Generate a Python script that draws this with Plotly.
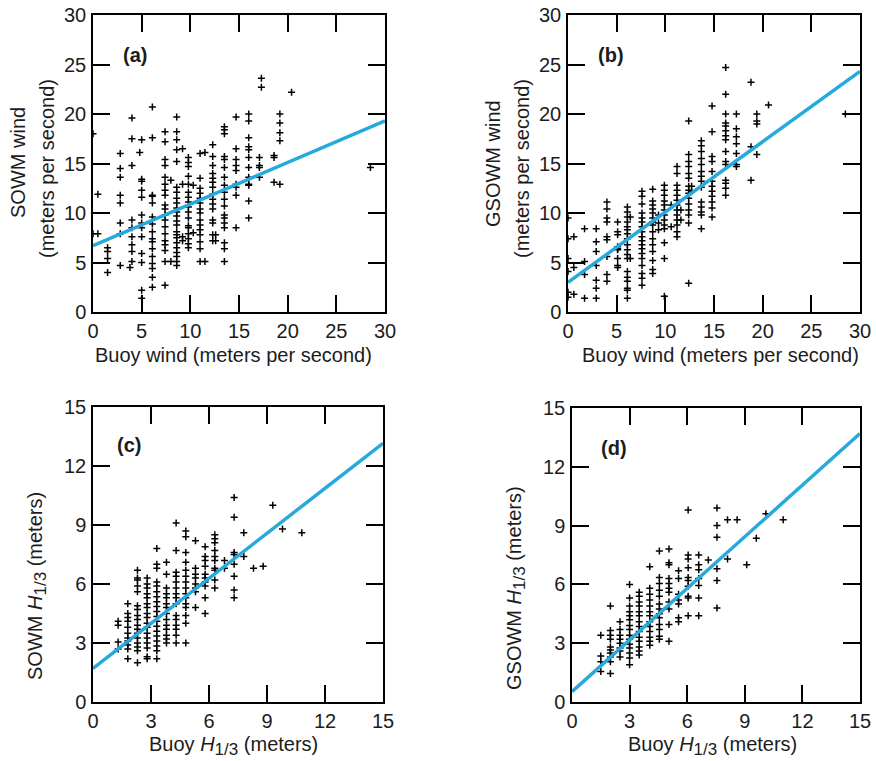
import plotly.graph_objects as go

W, H = 876, 761

# ---------------- data ----------------
# Panel (a): buoy wind vs SOWM wind  (column x, list of y values)
a_col_x = [0.0, 0.5, 1.5, 2.8, 4.0, 3.8, 5.0, 4.8, 6.1, 7.4, 8.0, 8.6, 9.2, 9.8, 10.3,
           11.0, 11.5, 12.3, 12.6, 13.5, 14.7, 16.0, 17.1, 17.3, 18.6, 19.2, 20.4, 28.5]
a_col_y = [
    [18.0, 7.9], [11.9, 7.9], [6.5, 6.1, 5.4, 4.0],
    [16.0, 14.5, 13.6, 11.8, 11.0, 9.0, 7.9, 4.7],
    [19.6, 17.5, 14.8, 9.3, 8.5, 7.6, 6.8, 6.1, 5.1], [4.5],
    [17.4, 13.4, 13.2, 12.3, 11.6, 9.8, 9.0, 8.5, 7.6, 5.9, 5.0, 2.2, 1.4], [16.1],
    [20.7, 17.6, 11.8, 11.7, 11.0, 9.6, 8.9, 8.1, 7.4, 7.1, 6.4, 5.6, 4.9, 4.4, 3.5, 2.5],
    [18.2, 17.2, 15.4, 14.8, 13.6, 12.9, 12.3, 11.8, 10.8, 10.4, 9.8, 9.3, 8.6, 7.9, 7.2, 6.8, 6.2, 5.1, 2.7],
    [13.3, 5.1],
    [19.7, 18.2, 17.4, 16.4, 15.2, 12.6, 12.1, 11.5, 11.0, 10.5, 10.1, 9.7, 9.2, 8.8, 8.1, 7.8, 7.5, 7.0, 6.5, 6.0, 5.6, 5.1, 4.7],
    [16.5, 12.9, 7.6, 7.2],
    [15.6, 15.1, 14.7, 13.7, 12.9, 12.1, 11.6, 11.1, 10.6, 10.1, 9.5, 8.7, 8.5, 7.9, 7.4, 6.9, 6.5],
    [12.8, 8.0],
    [16.0, 13.5, 12.5, 12.0, 11.5, 11.0, 10.4, 10.0, 9.3, 8.8, 8.3, 7.8, 7.1, 6.4, 5.1],
    [16.1, 5.1],
    [16.9, 15.7, 14.8, 14.0, 13.5, 13.1, 12.6, 11.9, 11.4, 10.9, 10.4, 9.3, 9.0, 7.8, 7.2],
    [7.8, 7.2],
    [18.7, 18.4, 18.0, 15.7, 15.4, 14.6, 13.6, 12.8, 12.1, 11.4, 10.7, 9.8, 9.5, 9.0, 8.5, 7.0, 6.4, 5.1],
    [19.7, 16.5, 15.4, 14.8, 14.3, 12.9, 12.6, 11.8, 8.5],
    [20.0, 19.3, 17.6, 16.7, 16.4, 15.6, 14.6, 13.6, 12.9, 12.8, 11.2, 9.5],
    [15.6, 14.8, 14.6, 13.6], [23.6, 22.7], [15.8, 15.6, 13.1],
    [20.0, 19.1, 18.1, 17.3, 12.9], [22.2], [14.6],
]

# Panel (b): buoy wind vs GSOWM wind
b_col_x = [0.0, 0.6, 1.7, 2.9, 4.0, 5.1, 6.1, 6.4, 7.6, 8.7, 9.3, 9.9, 10.6, 11.2, 11.6,
           12.4, 12.7, 13.7, 14.8, 16.2, 17.3, 18.8, 19.4, 20.6, 28.5]
b_col_y = [
    [9.5, 7.4, 5.4, 4.1, 2.0, 1.5], [7.6, 4.5, 1.8], [8.4, 5.1, 3.8, 1.4],
    [8.4, 7.1, 6.1, 4.7, 3.2, 2.4, 1.4],
    [11.1, 10.4, 9.5, 9.1, 7.6, 7.3, 5.6, 3.8, 3.1],
    [9.1, 8.1, 7.8, 6.6, 6.4, 6.3, 5.4, 4.7, 4.5],
    [10.6, 10.1, 9.6, 9.1, 8.6, 8.3, 7.9, 7.4, 6.8, 6.3, 5.8, 5.4, 4.1, 3.5, 3.1, 2.4, 2.2, 1.4],
    [9.6, 5.4],
    [12.2, 11.7, 10.9, 10.0, 9.5, 9.1, 8.6, 8.1, 7.6, 7.2, 6.8, 6.4, 5.9, 5.4, 4.7, 3.9, 3.4, 2.7],
    [12.4, 11.2, 10.8, 10.4, 10.0, 9.5, 9.1, 8.8, 8.1, 7.4, 6.8, 6.1, 5.2, 4.3, 3.9],
    [9.8, 9.0, 8.3],
    [12.8, 12.3, 11.8, 11.2, 10.8, 10.3, 9.8, 9.3, 8.8, 8.4, 7.0, 5.4, 1.6],
    [10.8, 8.6],
    [14.7, 14.0, 12.8, 12.3, 11.8, 11.3, 10.8, 10.3, 9.8, 9.3, 8.8, 8.1, 7.6],
    [10.3, 9.3],
    [19.3, 15.9, 15.2, 14.7, 14.0, 13.5, 12.7, 12.3, 12.0, 11.5, 10.9, 10.3, 9.8, 9.0, 2.9],
    [12.7, 12.2],
    [17.3, 16.8, 16.2, 15.5, 14.9, 14.2, 13.7, 13.2, 12.6, 11.1, 10.6, 10.1, 9.8, 8.4],
    [20.8, 18.2, 15.7, 15.2, 14.2, 13.2, 12.7, 12.2, 11.7, 11.1, 10.5, 9.6],
    [24.7, 22.0, 20.0, 19.1, 18.8, 18.3, 17.8, 17.4, 16.2, 15.2, 14.9, 13.3, 13.0, 12.5, 11.8],
    [20.0, 18.5, 17.7, 17.0, 16.0, 14.9, 14.7],
    [23.2, 16.7, 13.3], [20.0, 19.3, 19.0, 15.9], [20.9], [20.0],
]

# Panel (c): buoy H1/3 vs SOWM H1/3
c_col_x = [1.3, 1.8, 2.3, 2.8, 3.3, 3.8, 4.3, 4.8, 5.3, 5.8, 6.3, 6.8, 7.3, 7.8, 8.3,
           8.8, 9.3, 9.8, 10.8]
c_col_y = [
    [4.1, 3.9, 3.05, 2.7],
    [5.0, 4.5, 4.3, 4.1, 3.8, 3.5, 3.25, 3.1, 2.9, 2.7, 2.2],
    [6.7, 6.3, 6.2, 5.9, 5.6, 4.9, 4.7, 4.4, 4.2, 3.9, 3.7, 3.5, 3.25, 3.0, 2.8, 2.6, 2.0],
    [6.3, 6.0, 5.8, 5.5, 5.3, 5.0, 4.8, 4.5, 4.3, 4.0, 3.8, 3.5, 3.25, 3.0, 2.75, 2.3, 2.2],
    [7.8, 7.0, 6.8, 6.1, 5.9, 5.6, 5.35, 5.1, 4.85, 4.6, 4.35, 4.1, 3.85, 3.6, 3.35, 3.1, 2.85, 2.6, 2.2],
    [7.1, 6.5, 5.8, 5.5, 5.3, 5.0, 4.8, 4.5, 4.2, 3.9, 3.7, 3.4, 3.2, 3.0],
    [9.1, 7.7, 6.6, 6.4, 6.1, 5.8, 5.5, 5.3, 5.0, 4.4, 4.2, 3.9, 3.7, 3.4, 3.0],
    [8.7, 8.4, 7.6, 7.1, 6.7, 6.4, 6.1, 5.8, 5.5, 5.3, 5.0, 4.8, 4.4, 4.0, 3.0],
    [8.2, 6.8, 6.5, 6.3, 6.0, 5.8, 5.6, 4.8],
    [7.9, 7.4, 7.2, 6.9, 6.5, 6.3, 6.1, 5.9, 5.3, 4.5],
    [8.5, 8.3, 8.1, 7.7, 7.4, 7.2, 6.8, 6.7, 6.2, 5.8],
    [7.2, 6.8],
    [10.4, 9.4, 7.6, 7.5, 7.0, 6.4, 5.7, 5.3],
    [8.6, 7.4], [6.8], [6.9], [10.0], [8.8], [8.6],
]

# Panel (d): buoy H1/3 vs GSOWM H1/3
d_col_x = [1.5, 2.0, 2.5, 3.0, 3.5, 4.05, 4.55, 5.05, 5.55, 6.05, 6.6, 7.1, 7.55, 8.1,
           8.6, 9.1, 9.6, 10.1, 11.0]
d_col_y = [
    [3.4, 2.35, 2.05, 1.55],
    [4.9, 3.65, 3.4, 3.2, 2.8, 2.65, 2.5, 2.3, 2.05, 1.45],
    [4.1, 3.7, 3.4, 3.2, 3.0, 2.75, 2.6, 2.3],
    [6.0, 5.3, 4.9, 4.6, 4.4, 4.2, 3.9, 3.7, 3.4, 3.2, 2.95, 2.75, 2.5, 2.25, 1.9],
    [5.6, 5.4, 5.1, 4.9, 4.6, 4.4, 4.1, 3.85, 3.6, 3.3, 3.1, 2.8, 2.6, 2.4],
    [6.9, 5.8, 5.5, 5.2, 4.9, 4.6, 4.4, 4.1, 3.85, 3.6, 3.3, 3.1, 2.9],
    [7.7, 6.35, 6.05, 5.7, 5.4, 5.0, 4.75, 4.5, 4.3, 3.95, 3.7, 3.35, 3.2],
    [7.8, 7.1, 7.0, 6.3, 6.05, 5.8, 5.6, 5.1, 4.75, 3.95, 3.1],
    [6.7, 6.3, 5.5, 5.2, 5.0, 4.3, 4.1],
    [9.8, 7.5, 7.3, 6.85, 6.35, 6.2, 5.9, 5.4, 5.3, 4.4],
    [7.5, 7.0, 6.75, 6.3, 5.95, 5.3, 4.4],
    [7.25],
    [9.9, 9.0, 8.4, 6.8, 6.2, 4.8],
    [9.3, 7.3], [9.3], [7.0], [8.35], [9.6], [9.3],
]

# Regression lines (intercept, slope)
fit_intercept = [6.7, 3.0, 1.71, 0.53]
fit_slope = [0.42, 0.71, 0.763, 0.878]
axis_max = [30, 30, 15, 15]
axis_dtick = [5, 5, 3, 3]

SUB = "<sub><span style='font-size:17px'>1/3</span></sub>"
panel_labels = ["(a)", "(b)", "(c)", "(d)"]
y_titles = ["SOWM wind", "GSOWM wind",
            "SOWM <i>H</i>" + SUB + " (meters)", "GSOWM <i>H</i>" + SUB + " (meters)"]
y_subtitles = ["(meters per second)", "(meters per second)", None, None]
x_titles = ["Buoy wind (meters per second)", "Buoy wind (meters per second)",
            "Buoy <i>H</i>" + SUB + " (meters)", "Buoy <i>H</i>" + SUB + " (meters)"]

# ---------------- layout geometry (pixels) ----------------
plot_px = [  # left, right, top, bottom
    (93, 385, 15, 312),
    (568, 860, 15, 312),
    (93, 383, 407, 702),
    (572, 860, 408, 702),
]
x_title_center = [233, 720, 233, 712]
x_title_y = [355, 355, 746, 746]
y_title_x = [18, 493, 37, 516]
y_title_y = [163, 163, 586, 588]
y_sub_x = [47, 522, None, None]
y_sub_y = [169, 169, None, None]
label_xy = [(135, 55), (611, 55), (129, 445), (614, 448)]

FONT = "Liberation Sans, Arial, Helvetica, sans-serif"
TXT = "#1c1c1c"
LINE_COL = "#28a9db"
FS = 20


def px(x):
    return x / W


def py(y):
    return 1 - y / H


def expand(cx, cy):
    xs, ys = [], []
    for x, col in zip(cx, cy):
        for y in col:
            xs.append(x)
            ys.append(y)
    return xs, ys


fig = go.Figure()
datasets = [(a_col_x, a_col_y), (b_col_x, b_col_y), (c_col_x, c_col_y), (d_col_x, d_col_y)]

for i, (cx, cy) in enumerate(datasets):
    sfx = "" if i == 0 else str(i + 1)
    xs, ys = expand(cx, cy)
    fig.add_trace(go.Scatter(
        x=xs, y=ys, mode="markers", xaxis="x" + sfx, yaxis="y" + sfx,
        marker=dict(symbol="cross-thin", size=5, line=dict(width=1.5, color="black"), color="black"),
        showlegend=False, hoverinfo="x+y"))
    xm = axis_max[i]
    fig.add_trace(go.Scatter(
        x=[0, xm], y=[fit_intercept[i], fit_intercept[i] + fit_slope[i] * xm],
        mode="lines", xaxis="x" + sfx, yaxis="y" + sfx,
        line=dict(color=LINE_COL, width=3.5), showlegend=False))

axis_common = dict(
    showgrid=False, zeroline=False, showline=True, linecolor="black", linewidth=1.5,
    mirror="ticks", ticks="inside", ticklen=17, tickwidth=1.5, tickcolor="black",
    tickfont=dict(family=FONT, size=FS, color=TXT), automargin=False,
)

layout = dict(
    width=W, height=H, margin=dict(l=0, r=0, t=0, b=0, autoexpand=False),
    paper_bgcolor="white", plot_bgcolor="white", showlegend=False,
    font=dict(family=FONT, color=TXT),
)

annotations = []
for i, (l, r, t, b) in enumerate(plot_px):
    sfx = "" if i == 0 else str(i + 1)
    layout["xaxis" + sfx] = dict(axis_common, domain=[px(l), px(r)], range=[0, axis_max[i]],
                                 dtick=axis_dtick[i], tick0=0, anchor="y" + sfx,
                                 ticklabelstandoff=0)
    layout["yaxis" + sfx] = dict(axis_common, domain=[py(b), py(t)], range=[0, axis_max[i]],
                                 dtick=axis_dtick[i], tick0=0, anchor="x" + sfx,
                                 ticklabelstandoff=1)
    lx, ly = label_xy[i]
    annotations.append(dict(text="<b>" + panel_labels[i] + "</b>", xref="paper", yref="paper",
                            x=px(lx), y=py(ly), xanchor="center", yanchor="middle",
                            showarrow=False, font=dict(family=FONT, size=20, color=TXT)))
    annotations.append(dict(text=x_titles[i], xref="paper", yref="paper",
                            x=px(x_title_center[i]), y=py(x_title_y[i]),
                            xanchor="center", yanchor="middle", showarrow=False,
                            font=dict(family=FONT, size=FS, color=TXT)))
    annotations.append(dict(text=y_titles[i], xref="paper", yref="paper",
                            x=px(y_title_x[i]), y=py(y_title_y[i]), textangle=-90,
                            xanchor="center", yanchor="middle", showarrow=False,
                            font=dict(family=FONT, size=FS, color=TXT)))
    if y_subtitles[i]:
        annotations.append(dict(text=y_subtitles[i], xref="paper", yref="paper",
                                x=px(y_sub_x[i]), y=py(y_sub_y[i]), textangle=-90,
                                xanchor="center", yanchor="middle", showarrow=False,
                                font=dict(family=FONT, size=FS, color=TXT)))

layout["annotations"] = annotations
fig.update_layout(**layout)
fig.write_html("out.html", config={"displayModeBar": False},
               post_script="document.body.style.margin='0';document.body.style.overflow='hidden';")
